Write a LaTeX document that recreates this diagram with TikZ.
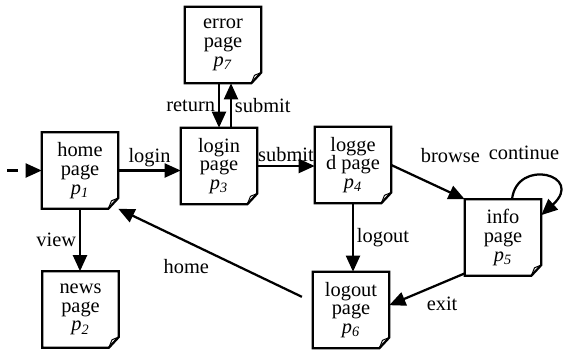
\documentclass[tikz,border=0pt]{standalone}
\usepackage{fontspec}
\setmainfont{Liberation Serif}
\usetikzlibrary{arrows.meta}

\newcommand{\pag}[1]{\textit{p}\textsubscript{\textit{#1}}}

\begin{document}
\begin{tikzpicture}[
    x=0.025cm, y=-0.025cm,
    pagina/.style={
        rectangle,
        draw=none,
        minimum width=1.9cm,
        minimum height=1.9cm,
        inner sep=1pt,
        align=center,
        font=\fontsize{14.5}{13.4}\selectfont,
        append after command={
            \pgfextra{
                \draw[line width=1.6pt, line join=miter]
                    (\tikzlastnode.south west) -- (\tikzlastnode.north west)
                    -- (\tikzlastnode.north east)
                    -- ([yshift=0.27cm]\tikzlastnode.south east)
                    -- ([xshift=-0.25cm]\tikzlastnode.south east) -- cycle;
                \draw[line width=0.7pt]
                    ([xshift=-0.25cm]\tikzlastnode.south east) -- ++(0.08cm,0.2cm)
                    -- ([yshift=0.27cm]\tikzlastnode.south east);
            }
        }
    },
    flecha/.style={
        line width=1.6pt,
        -{Triangle[length=11.5pt, width=10pt]}
    },
    etiq/.style={
        font=\fontsize{14.5}{13.4}\selectfont,
        inner sep=2pt
    }
]
\useasboundingbox (0,0) rectangle (563,350);

% Paginas
\node[pagina] (p1) at (80,170.5) {home\\page\\\pag{1}};
\node[pagina] (p2) at (80.5,309.5) {news\\page\\\pag{2}};
\node[pagina] (p3) at (219,166) {login\\page\\\pag{3}};
\node[pagina] (p4) at (353,165) {logge\\d page\\\pag{4}};
\node[pagina] (p5) at (503,237.5) {info\\page\\\pag{5}};
\node[pagina] (p6) at (351,310) {logout\\page\\\pag{6}};
\node[pagina] (p7) at (223,45) {error\\page\\\pag{7}};

\coordinate (inicio) at (7,170.5);

% Entrada
\draw[flecha, dash pattern=on 7.8pt off 5.7pt] (inicio) -- (p1.west);

% Transiciones
\draw[flecha] (p1.east) -- (p1.east -| p3.west)
    node[etiq, midway, above] {login};
\draw[flecha] (p3.east) -- (p3.east -| p4.west)
    node[etiq, midway, above] {submit};
\draw[flecha] (p7.south -| p3.north) -- (p3.north)
    node[etiq, midway, left] {return};
\draw[flecha] ([xshift=0.3cm]p3.north) -- ([xshift=0.3cm]p3.north |- p7.south)
    node[etiq, midway, right] {submit};
\draw[flecha] (p1.south) -- (p1.south |- p2.north)
    node[etiq, midway, left] {view};
\draw[flecha] (p4.south) -- (p4.south |- p6.north)
    node[etiq, midway, right] {logout};
\draw[flecha] (p4.east) -- (p5.north west)
    node[etiq, pos=0.35, anchor=south west, yshift=0.25cm] {browse};
\draw[flecha] ([xshift=0.225cm]p5.north) .. controls +(0.125cm,1.05cm) and +(1.1cm,1cm) .. ([yshift=0.56cm]p5.east)
    node[etiq, pos=0.4, above, xshift=-0.33cm, yshift=0.28cm] {continue};
\draw[flecha] ([yshift=0.06cm]p5.south west) -- ([yshift=0.12cm]p6.east)
    node[etiq, pos=0.3, below, yshift=-0.25cm] {exit};
\draw[flecha, shorten <=0.3cm] ([yshift=0.2cm]p6.west) -- (p1.south east)
    node[etiq, pos=0.65, below, yshift=-0.35cm] {home};

\end{tikzpicture}
\end{document}
